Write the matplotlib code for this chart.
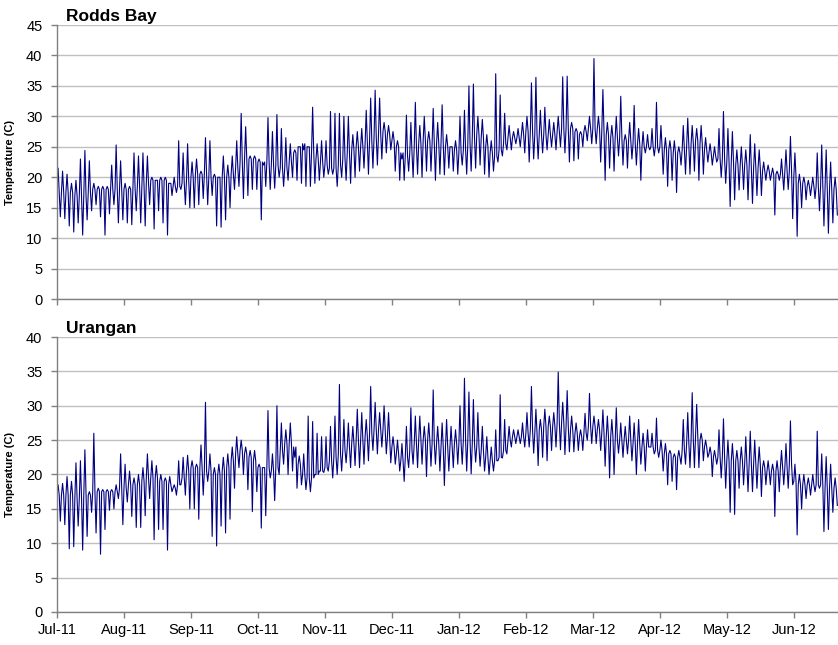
import matplotlib.pyplot as plt
import numpy as np

plt.rcParams['font.family'] = ['Liberation Sans', 'DejaVu Sans']

# water temperature every ~2 days (15 steps per month):
# running level, high spike and low spike of each step
rb_mid = [
    17.5, 17.5, 17.5, 17.5, 17, 17, 17, 17.5, 18, 18, 18, 18, 18, 18, 18,             # Jul
    18, 18, 18, 18.5, 18.5, 19, 19.5, 19.5, 19.5, 19.5, 19, 18.5, 18.5, 19, 19.5,     # Aug
    20, 20.5, 20.5, 20.5, 20, 20, 20, 20, 20, 20.5, 21.5, 22.5, 23, 23, 23,           # Sep
    22.5, 22.5, 22.5, 22, 22, 21.5, 21.5, 22.5, 24, 25, 25.5, 25, 24, 23, 22.5,       # Oct
    22, 21.5, 21.5, 22, 23, 24, 24.5, 25, 25, 25.5, 26, 26.5, 27, 27.5, 27,           # Nov
    26, 25, 24, 23.5, 24, 25, 25.5, 26, 26, 25.5, 25.5, 25.5, 25, 25, 24.5,           # Dec
    24, 24.5, 25.5, 26.5, 27, 26.5, 25, 24, 23.5, 24.5, 25.5, 26.5, 26.5, 26.5, 27,   # Jan
    27.5, 27.5, 27, 27, 27, 27, 27, 27.5, 28, 28, 28, 27.5, 27, 27.5, 28,             # Feb
    28, 28, 27.5, 27, 26.5, 26.5, 26.5, 26, 26, 25.5, 25.5, 25, 25, 25, 25,           # Mar
    25, 24.5, 24.5, 24, 24, 24.5, 25, 25.5, 26, 25.5, 24.5, 24, 23.5, 23, 23,         # Apr
    22.5, 22.5, 22, 22, 22, 21.5, 21.5, 21.5, 21, 21, 20.5, 20.5, 20.5, 21, 21,       # May
    20, 19, 19, 18.5, 18.5, 18.5, 18.5, 18, 18, 18,                                   # Jun
]
rb_hi = [
    21.5, 21, 20.5, 19, 19.5, 23, 24.4, 22.7, 19, 18.5, 18.5, 18.5, 22, 25.3, 22.7,
    19, 18.5, 24, 23.5, 24, 23.5, 20, 19.5, 20, 20, 19, 20, 26, 24, 25.5,
    22.5, 23, 21, 26.5, 26, 20.5, 20, 23.5, 22, 23.5, 26, 30.5, 28.3, 23.5, 23.5,
    23, 22, 29.8, 27.5, 30.3, 28, 26.5, 25.5, 24.5, 25, 24.5, 25, 31.5, 25.5, 26,
    26, 30.8, 30.5, 30.5, 30, 30, 27, 27.5, 28, 31, 33, 34.3, 33, 29, 28.5,
    27.5, 26, 23, 30.2, 29, 32.3, 28.5, 30, 27.5, 31.3, 29, 31.9, 27, 25, 26,
    30, 31, 35, 35.3, 30, 29.5, 27, 26, 37, 33.5, 30.5, 28.5, 27.5, 28, 29,
    30, 35.5, 36.4, 31, 31.5, 29.5, 29, 30, 36.5, 36.6, 29, 28, 27.5, 28.5, 30,
    39.5, 30, 34.4, 29, 28.5, 30, 33.3, 27, 29, 31.8, 28, 27.5, 27, 28, 32.3,
    28.5, 26.5, 26, 26, 25, 28.5, 29.7, 28.5, 28, 28.5, 26.5, 25.5, 25, 28, 30.8,
    28, 27.5, 24.5, 25, 24.5, 27, 25.5, 24.5, 22.5, 22, 21.5, 21, 23, 24.5, 26.7,
    24, 20.5, 20, 19.5, 20, 24, 25.3, 24.5, 22.5, 20,
]
rb_lo = [
    13.5, 13.2, 12, 11, 12.5, 10.5, 13, 14.5, 15.5, 13.5, 10.5, 14, 15.5, 12.5, 13,
    12.5, 12.2, 14.5, 12.5, 12, 15.5, 11.5, 14.5, 12.5, 10.5, 17, 17.5, 18, 15.5, 15,
    15, 15.5, 16.5, 15.5, 17, 12, 11.8, 13, 15, 18, 18.5, 16.5, 17, 18, 18,
    13, 18.5, 18, 18.2, 20, 18.5, 19.5, 20, 19.5, 19, 18.5, 18.5, 19, 19.5, 20,
    20.5, 20.5, 18.5, 20, 19.5, 19, 20, 21, 21.5, 20.5, 21.5, 22, 23, 24, 24.5,
    21, 19.5, 19.5, 21, 20, 20.5, 20, 21, 21, 19.5, 20.5, 20.4, 21.5, 21, 20.5,
    22, 20.5, 21, 21.5, 22, 20.5, 20, 21, 22.5, 23.5, 24.5, 24.5, 25.5, 25, 24,
    22.5, 23, 23, 24, 24.5, 25, 24.5, 25, 24, 22.5, 22.7, 23, 25, 26, 25.5,
    25.5, 22.5, 19.5, 21.5, 21, 23.5, 22, 21.5, 23, 22, 19.5, 24, 24.5, 23.5, 24,
    20.5, 18.5, 19.5, 17.5, 22, 20.5, 20.5, 21, 19.5, 20.5, 22.5, 22, 22.5, 20, 19,
    15.2, 16.3, 17.9, 18, 16.3, 15.7, 17, 17, 19.5, 19.5, 13.8, 19.5, 17.9, 18, 13.2,
    10.3, 15, 16.3, 17, 16.5, 14.5, 12, 10.8, 12.5, 13.8,
]

ur_mid = [
    17, 17, 17, 17, 16.5, 16.5, 17, 17, 17.5, 17.5, 17.5, 17.5, 17.5, 17.5, 18,
    18, 18.5, 18.5, 18.5, 19, 19.5, 19.5, 19.5, 19, 19, 18.5, 18, 18.5, 19.5, 20.5,
    21, 21, 21, 20.5, 20.5, 20, 20, 20.5, 21, 22, 23, 23.5, 23, 22.5, 22,
    21, 21, 21, 20.5, 21, 23.5, 24.5, 24.5, 24, 21.5, 20, 19.5, 19.5, 20, 20.5,
    21, 22, 22.5, 23, 23.5, 24, 24.5, 25, 25, 25.5, 26, 26.5, 26.5, 26.5, 25.5,
    24, 23, 22, 22.5, 23.5, 24.5, 25, 25, 25, 24.5, 24.5, 24, 24, 24, 24.5,
    24.5, 25, 25, 24.5, 24, 23.5, 22.5, 22, 22, 22.5, 23.5, 25, 25.5, 25.5, 25.5,
    26, 26.5, 26, 26.5, 27, 27, 27, 27.5, 27.5, 27, 26.5, 26, 25.5, 26, 27,
    27, 26.5, 26, 25.5, 25.5, 25, 25, 25, 25, 24.5, 24.5, 24, 24, 24, 23.5,
    23.5, 23, 23, 22.5, 22.5, 23.5, 24.5, 25, 25.5, 25, 24, 23, 22.5, 22.5, 22.5,
    22, 22, 22, 22, 21.5, 21.5, 21.5, 21.5, 21, 20.5, 20.5, 20.5, 21, 21, 21.5,
    19, 18.5, 18.5, 18.5, 18.5, 18.5, 18.5, 18, 18, 18,
]
ur_hi = [
    18.5, 18.7, 19.7, 19, 21.7, 22, 23.6, 17.5, 26, 18, 17.8, 17.8, 17.8, 18.5, 23,
    21.5, 20.5, 19.5, 20, 21, 23, 22, 21.3, 20, 19.5, 19.7, 18.5, 22, 22.5, 22.8,
    22, 21.5, 24.3, 30.5, 23, 21, 21.5, 22.5, 23, 24, 25.5, 25, 24, 23.5, 23.5,
    21.5, 21, 29.3, 23, 30, 27.5, 26.5, 27.5, 22.5, 22.7, 23, 28.5, 27.7, 26, 25.5,
    25.5, 27, 28.5, 33.1, 28, 27.5, 27, 29.5, 29, 28, 32.8, 30.5, 29, 30, 29,
    25.5, 25, 24.5, 27, 29.7, 28.5, 28.5, 27, 27.5, 32.3, 27, 27.5, 28, 27, 26.5,
    30, 34, 32, 30.9, 29, 27, 25.5, 24, 26.5, 31.6, 28, 27, 26.5, 26.5, 27.5,
    29, 32.8, 29.5, 28, 29.5, 28.5, 29, 34.9, 30.5, 32.2, 28.5, 27.5, 26.5, 28.9, 31.8,
    28.5, 28, 29.4, 28.5, 28, 29.7, 27.5, 27, 28.5, 27.5, 28, 26, 26.5, 26, 28.2,
    25, 24.5, 23.5, 23, 23.5, 28, 29, 31.9, 30.2, 26, 25, 24, 23.5, 26.5, 28.1,
    25, 24.5, 23.5, 24, 25.5, 26.3, 25, 24, 22, 22, 21.5, 22, 23.5, 24.5, 27.8,
    21.5, 20, 20, 19.5, 20, 26.3, 23, 22.6, 21.5, 19.5,
]
ur_lo = [
    13.2, 12.7, 9.2, 9.5, 12.5, 9, 11, 14.5, 11.5, 8.4, 12, 14.8, 15, 16.5, 12.7,
    16, 13.9, 12.3, 12.3, 14, 16.5, 10.5, 12, 12, 9, 17.5, 17, 18.5, 17, 15,
    15, 13.5, 17, 19, 11, 9.6, 12.5, 11.5, 13.5, 18, 21, 20, 17.8, 14.6, 17.5,
    12.2, 14, 19.5, 16.2, 20, 21.5, 20, 20.5, 18, 18.5, 17.8, 17.5, 20, 20.5, 20.3,
    20.5, 19.5, 20, 20.5, 21.7, 21, 21.3, 21, 21.5, 22, 23.5, 23, 24, 23, 21.7,
    21.5, 20.5, 19, 21, 21.5, 21, 21.5, 19.7, 21.2, 21.5, 20.5, 18.4, 20.5, 21, 21.5,
    21.5, 20.5, 20.1, 21.8, 21.2, 20.5, 20, 20.5, 22, 22.4, 23, 24, 24.5, 24.5, 24,
    24, 23.1, 21.3, 22.5, 22, 23.5, 24, 23.6, 22.9, 23.3, 23.3, 23.5, 23.5, 25, 24.5,
    24.5, 23.5, 21.2, 19.5, 20, 23.1, 22.5, 23, 22, 20, 21.5, 20.5, 24, 23, 22.5,
    20.5, 18.5, 19, 17.8, 21.5, 21.5, 21, 21, 21, 22, 22.5, 19.7, 21.5, 19.5, 18,
    14.5, 14.2, 18, 18.5, 17.5, 17.5, 18, 16.8, 18.5, 18.5, 13.9, 17.5, 18.5, 18, 18.5,
    11.2, 15, 16.5, 17, 17.5, 18, 11.7, 12, 14.5, 15.5,
]

months = ['Jul-11', 'Aug-11', 'Sep-11', 'Oct-11', 'Nov-11', 'Dec-11',
          'Jan-12', 'Feb-12', 'Mar-12', 'Apr-12', 'May-12', 'Jun-12']


def draw(ax, mid, hi, lo, ymax, name, labels):
    # x in months from 1 Jul 2011; each step runs level -> high -> level -> low
    t = np.arange(len(mid)) / 15.0
    x = np.column_stack([t, t + 1 / 60.0, t + 2 / 60.0, t + 3 / 60.0]).ravel()
    y = np.column_stack([mid, hi, mid, lo]).ravel()
    ax.plot(x, y, color='#000080', lw=0.8)

    ax.set_xlim(0, 11.66)
    ax.set_ylim(0, ymax)
    ax.set_yticks(np.arange(0, ymax + 1, 5))
    ax.set_xticks(np.arange(len(months)))
    if labels:
        ax.set_xticklabels(months)
    else:
        ax.set_xticklabels([])
    ax.tick_params(axis='both', labelsize=10.5, length=4, width=1,
                   color='#808080', direction='out')
    ax.tick_params(axis='y', pad=6.5)
    ax.tick_params(axis='x', pad=4)
    ax.yaxis.grid(True, color='#c0c0c0', lw=1)
    ax.set_axisbelow(True)
    for s in ['top', 'right']:
        ax.spines[s].set_visible(False)
    for s in ['left', 'bottom']:
        ax.spines[s].set_color('#808080')
        ax.spines[s].set_linewidth(1)
    ax.set_ylabel('Temperature (C)', fontsize=8, fontweight='bold')
    ax.yaxis.set_label_coords(-0.054, 0.5)
    ax.text(0.012, 1.005, name, transform=ax.transAxes, fontsize=12.5,
            fontweight='bold', va='bottom', ha='left')


fig = plt.figure(figsize=(8.38, 6.45), dpi=100)
ax1 = fig.add_axes([0.068, 0.5364, 0.932, 0.4248])
ax2 = fig.add_axes([0.068, 0.0512, 0.932, 0.4263])

draw(ax1, rb_mid, rb_hi, rb_lo, 45, 'Rodds Bay', False)
draw(ax2, ur_mid, ur_hi, ur_lo, 40, 'Urangan', True)

fig.savefig('out.png', dpi=100)
